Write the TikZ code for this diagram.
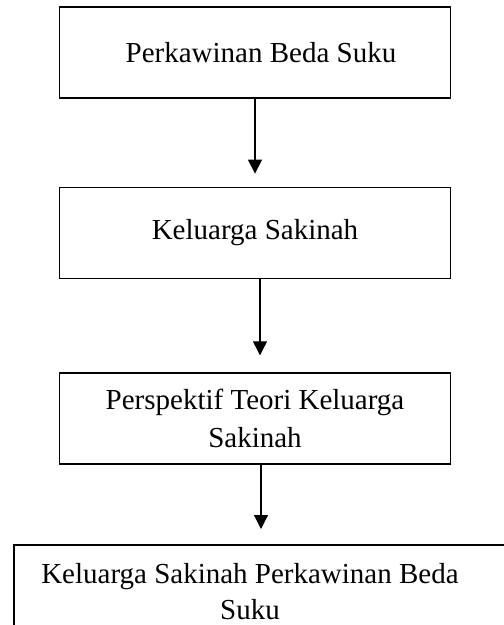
\documentclass[tikz,border=0pt]{standalone}
\usepackage{fontspec}
\setmainfont{Liberation Serif}
\usetikzlibrary{arrows.meta, positioning}

\tikzset{
    flowbox/.style={draw, line width=1.8pt, rectangle, minimum width=391pt, minimum height=91pt, align=center, font=\fontsize{29}{38}\selectfont},
    flowarrow/.style={->, >={Triangle[width=14pt, length=14pt]}, line width=1.2pt}
}

\begin{document}
\begin{tikzpicture}[x=1pt, y=-1pt]

\clip (0,0) rectangle (504,625);

% Boxes
\node[flowbox] (beda) at (255, 52.8) {\hspace*{12pt}Perkawinan Beda Suku};
\node[flowbox] (sakinah) at (255, 233) {Keluarga Sakinah};
\node[flowbox] (teori) at (255, 418.7) {Perspektif Teori Keluarga\\Sakinah};

% Last box (runs off the page)
\node[draw, line width=1.8pt, rectangle, anchor=north west, minimum width=560pt, minimum height=120pt] (hasil) at (12.7, 544) {};
\node[font=\fontsize{29}{36}\selectfont, align=center, inner sep=1pt] (hasilText) at (250, 592) {Keluarga Sakinah Perkawinan Beda\\Suku};

% Arrows
\draw[flowarrow, shorten >=13pt] (beda.south) -- (sakinah.north);
\draw[flowarrow, shorten >=17pt] ([xshift=5pt]sakinah.south) -- ([xshift=5pt]teori.north);
\draw[flowarrow, shorten >=15pt] ([xshift=6pt]teori.south) -- ([xshift=6pt]teori.south |- hasil.north);

\end{tikzpicture}
\end{document}
